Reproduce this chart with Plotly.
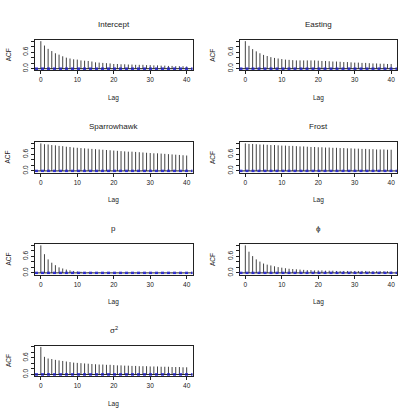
import plotly.graph_objects as go

lags = list(range(41))
titles = ["Intercept", "Easting", "Sparrowhawk", "Frost", "p", "ϕ", "σ<sup>2</sup>"]

acf_intercept = [1.00, 0.84, 0.72, 0.64, 0.56, 0.51, 0.45, 0.40, 0.37, 0.34, 0.33, 0.30, 0.29, 0.28,
                 0.26, 0.23, 0.22, 0.21, 0.20, 0.19, 0.17, 0.17, 0.16, 0.16, 0.15, 0.15, 0.14, 0.14,
                 0.14, 0.13, 0.13, 0.12, 0.12, 0.11, 0.11, 0.10, 0.10, 0.09, 0.09, 0.09, 0.08]
acf_easting = [1.00, 0.83, 0.71, 0.63, 0.56, 0.50, 0.46, 0.42, 0.39, 0.37, 0.35, 0.33, 0.32, 0.31,
               0.30, 0.30, 0.30, 0.30, 0.30, 0.30, 0.29, 0.28, 0.28, 0.27, 0.26, 0.26, 0.25, 0.24,
               0.24, 0.23, 0.22, 0.22, 0.21, 0.21, 0.20, 0.19, 0.19, 0.18, 0.18, 0.17, 0.17]
acf_sparrowhawk = [1.00, 0.97, 0.96, 0.94, 0.93, 0.91, 0.90, 0.88, 0.87, 0.85, 0.84, 0.83, 0.82, 0.81,
                   0.80, 0.79, 0.78, 0.77, 0.76, 0.75, 0.74, 0.73, 0.72, 0.71, 0.70, 0.70, 0.69, 0.68,
                   0.67, 0.66, 0.65, 0.64, 0.64, 0.63, 0.62, 0.61, 0.60, 0.59, 0.58, 0.57, 0.56]
acf_frost = [1.00, 0.98, 0.98, 0.97, 0.96, 0.96, 0.95, 0.94, 0.94, 0.93, 0.92, 0.92, 0.91, 0.91,
             0.90, 0.89, 0.89, 0.88, 0.87, 0.87, 0.86, 0.86, 0.85, 0.85, 0.84, 0.84, 0.83, 0.83,
             0.82, 0.82, 0.81, 0.81, 0.80, 0.80, 0.79, 0.79, 0.78, 0.78, 0.78, 0.77, 0.77]
acf_p = [1.00, 0.68, 0.49, 0.37, 0.28, 0.20, 0.16, 0.12, 0.09, 0.07, 0.05, 0.04, 0.03, 0.02,
         0.02, 0.01, 0.01, 0.00, 0.01, 0.00, -0.01, 0.00, 0.01, 0.00, -0.01, -0.02, -0.01, 0.00,
         0.01, 0.00, -0.01, 0.00, 0.01, 0.00, -0.01, -0.02, -0.01, 0.00, 0.00, -0.01, -0.02]
acf_phi = [1.00, 0.77, 0.61, 0.49, 0.41, 0.34, 0.30, 0.27, 0.24, 0.21, 0.19, 0.17, 0.15, 0.14,
           0.13, 0.12, 0.11, 0.10, 0.10, 0.09, 0.09, 0.09, 0.08, 0.08, 0.08, 0.07, 0.07, 0.07,
           0.07, 0.07, 0.07, 0.07, 0.07, 0.07, 0.06, 0.06, 0.06, 0.06, 0.06, 0.06, 0.05]
acf_sigma2 = [1.00, 0.64, 0.58, 0.56, 0.53, 0.51, 0.49, 0.47, 0.45, 0.43, 0.42, 0.41, 0.40, 0.39,
              0.38, 0.37, 0.36, 0.36, 0.35, 0.35, 0.34, 0.33, 0.33, 0.32, 0.32, 0.31, 0.31, 0.30,
              0.30, 0.30, 0.29, 0.29, 0.29, 0.28, 0.28, 0.28, 0.27, 0.27, 0.27, 0.26, 0.26]
series = [acf_intercept, acf_easting, acf_sparrowhawk, acf_frost, acf_p, acf_phi, acf_sigma2]

x_ticks = [0, 10, 20, 30, 40]
y_ticks = [0.0, 0.2, 0.4, 0.6, 0.8, 1.0]
y_ticktext = ["0.0", " ", " ", "0.6", " ", " "]
clim = 0.025

W, H = 403, 416
FONT = "Liberation Sans, Arial, sans-serif"
col_x = [(35, 192.5), (239.5, 397)]
row_top = [39.3, 142.3, 245, 347.3]
box_h = 30.7

fig = go.Figure()
layout = {}
shapes = []
annotations = []

for i, (title, acf) in enumerate(zip(titles, series)):
    r, c = divmod(i, 2)
    x0, x1 = col_x[c]
    y0 = row_top[r]
    y1 = y0 + box_h
    sfx = "" if i == 0 else str(i + 1)
    xs, ys = [], []
    for l, v in zip(lags, acf):
        xs += [l, l, None]
        ys += [0, v, None]
    fig.add_trace(go.Scatter(x=xs, y=ys, mode="lines", line=dict(color="#444", width=1),
                             xaxis="x" + sfx, yaxis="y" + sfx, hoverinfo="skip", showlegend=False))
    lo = min(-clim, min(acf))
    hi = max(clim, max(acf))
    ext = 0.04 * (hi - lo)
    xext = 0.04 * (lags[-1] - lags[0])
    axis_common = dict(showline=True, mirror=True, linecolor="#222", linewidth=1,
                       ticks="outside", ticklen=3, tickwidth=1, tickcolor="#222",
                       showgrid=False, zeroline=False,
                       tickfont=dict(family=FONT, size=6.5, color="#222"))
    layout["xaxis" + sfx] = dict(domain=[x0 / W, x1 / W], anchor="y" + sfx,
                                 range=[lags[0] - xext, lags[-1] + xext],
                                 tickvals=x_ticks, ticktext=[str(t) for t in x_ticks], **axis_common)
    layout["yaxis" + sfx] = dict(domain=[1 - y1 / H, 1 - y0 / H], anchor="x" + sfx,
                                 range=[lo - ext, hi + ext], tickvals=y_ticks,
                                 ticktext=y_ticktext, tickangle=-90, **axis_common)
    xr = ("x" + sfx) + " domain"
    yr = "y" + sfx
    shapes.append(dict(type="line", xref=xr, yref=yr, x0=0, x1=1, y0=0, y1=0,
                       line=dict(color="#222", width=1), layer="above"))
    for s in (clim, -clim):
        shapes.append(dict(type="line", xref=xr, yref=yr, x0=0, x1=1, y0=s, y1=s,
                           line=dict(color="#2020dd", width=1, dash="3px,3px"), layer="above"))
    cx = (x0 + x1) / 2 / W
    annotations.append(dict(text=title, x=cx, y=1 - (y0 - 16) / H, xref="paper", yref="paper",
                            showarrow=False, xanchor="center", yanchor="middle",
                            font=dict(family=FONT, size=8, color="#222")))
    annotations.append(dict(text="Lag", x=cx, y=1 - (y1 + 27.8) / H, xref="paper", yref="paper",
                            showarrow=False, xanchor="center", yanchor="middle",
                            font=dict(family=FONT, size=6.5, color="#222")))
    annotations.append(dict(text="ACF", x=(x0 - 27) / W, y=1 - (y0 + y1) / 2 / H, xref="paper",
                            yref="paper", showarrow=False, xanchor="center", yanchor="middle",
                            textangle=-90, font=dict(family=FONT, size=6.5, color="#222")))

fig.update_layout(width=W, height=H, margin=dict(l=0, r=0, t=0, b=0),
                  paper_bgcolor="white", plot_bgcolor="white",
                  shapes=shapes, annotations=annotations, **layout)
fig.write_html("out.html")
